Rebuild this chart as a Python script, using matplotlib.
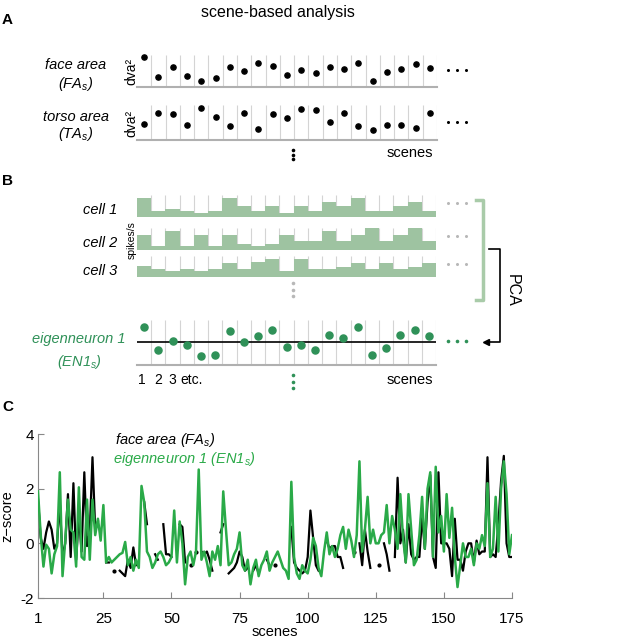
import numpy as np
import matplotlib
matplotlib.use('Agg')
import matplotlib.pyplot as plt
from matplotlib.lines import Line2D

plt.rcParams['font.family'] = ['Liberation Sans', 'DejaVu Sans']
plt.rcParams['mathtext.fontset'] = 'custom'
plt.rcParams['mathtext.rm'] = 'Liberation Sans'
plt.rcParams['mathtext.it'] = 'Liberation Sans:italic'

n = np.nan
W, H = 635.0, 640.0

# panel A: per-scene areas (arbitrary units)
face_area = [30, 10, 20.3, 11.3, 6.3, 8.7, 20.3, 15.7, 23.7, 21.3, 12.3,
             16.7, 14, 20, 17.7, 23.7, 6.3, 15.3, 17.7, 23, 18.7]
torso_area = [15.7, 27.3, 25.7, 15, 31.7, 23.3, 14.3, 27.3, 11, 25.7, 21.7,
              31, 30, 17.7, 26.7, 14.3, 10, 15, 15, 11.7, 26.7]

# panel B: firing rates (fraction of row height)
cell1 = [0.85, 0.28, 0.38, 0.26, 0.2, 0.26, 0.85, 0.5, 0.26, 0.5, 0.2,
         0.5, 0.26, 0.66, 0.5, 0.85, 0.26, 0.26, 0.5, 0.66, 0.26]
cell2 = [0.69, 0.2, 0.88, 0.2, 0.69, 0.2, 0.69, 0.28, 0.2, 0.28, 0.69,
         0.42, 0.42, 0.88, 0.42, 0.69, 1.0, 0.42, 0.69, 1.0, 0.42]
cell3 = [0.52, 0.4, 0.3, 0.4, 0.3, 0.4, 0.68, 0.4, 0.71, 0.85, 0.3,
         0.85, 0.4, 0.4, 0.5, 0.68, 0.4, 0.68, 0.4, 0.5, 0.68]
eigen1 = [15, -8.3, 0.7, -2.7, -14, -13.3, 10.7, 0, 6, 11.7, -5,
          -2.7, -7.7, 6.7, 4.3, 15, -12.7, -6, 6.7, 11.7, 5.7]

# panel C: z-scored time courses, 175 scenes
fa_z = [1.6, 0.2, -0.2, 0.4, 0.8, 0.5, -0.2, 0.0, 1.5, -0.5,
        0.0, 1.8, -0.5, 2.2, -0.6, 1.0, -0.3, 2.6, -0.1, 0.4,
        3.15, 0.5, 0.8, n, n, -0.7, -0.7, n, -1.0, n,
        -1.0, -1.1, -1.2, -0.6, -0.9, -0.15, -0.8, n, n, 1.5,
        0.7, n, n, -0.4, -0.6, n, 0.7, -0.4, -0.4, -0.5,
        n, n, 0.7, 0.6, -0.7, n, -0.8, n, -0.3, n,
        -0.3, -0.4, -0.3, -0.6, -1.0, n, n, 0.4, 0.7, n,
        -1.1, -1.0, -0.9, -0.7, -0.3, -0.5, -1.0, -0.9, n, -1.0,
        -0.8, -1.1, n, n, -0.6, -0.8, n, -0.8, n, n,
        n, n, n, 0.6, -0.7, -0.9, -1.0, -1.1, -1.0, -0.5,
        1.2, 0.2, -0.8, -1.0, n, n, 0.1, -0.2, -0.1, -0.1,
        -0.5, -0.5, -0.9, n, n, n, -0.3, n, 0.0, -0.8,
        0.5, -0.3, -0.9, n, n, -0.8, n, 0.0, -0.4, -1.0,
        n, -0.5, 2.4, 0.0, 0.5, -0.7, 0.7, -0.4, -0.6, -0.5,
        -0.5, 1.0, -0.2, 1.5, 2.5, -0.5, -0.9, 2.6, 0.0, 0.0,
        0.0, -0.2, -1.2, 0.9, -0.6, -0.6, -1.0, -0.3, 0.0, 0.0,
        -0.7, 0.1, -0.4, -0.3, -0.3, 3.15, -0.5, -0.4, -0.5, 0.7,
        2.3, 3.2, 0.0, -0.5, -0.5]
en1_z = [1.9, 0.3, -0.85, -0.05, -0.2, -1.1, -0.4, -0.1, 2.6, -1.2,
         0.1, 1.6, 0.5, 0.4, -0.85, 2.05, -0.5, -0.6, 1.6, -0.6,
         1.6, 0.3, 0.9, 0.1, 1.4, -0.7, -0.5, -0.7, -0.6, -0.5,
         -0.4, -0.35, 0.05, -0.8, -0.5, -1.0, -0.6, -0.9, 2.1, 1.5,
         -0.3, -0.5, -0.9, -0.7, -0.4, -0.3, -0.5, -0.8, -0.7, -0.5,
         1.2, -0.7, 0.8, 0.0, -1.5, -0.5, -0.3, -0.8, -0.3, 2.7,
         -0.6, -0.3, -0.7, -1.2, -0.3, -0.6, -0.1, -0.8, 1.9, 0.5,
         -0.8, -0.7, -0.4, -0.2, 0.4, -0.8, -1.0, -0.6, -1.5, -0.9,
         -0.6, -1.2, -0.8, -0.6, -0.3, -1.0, -0.7, -0.5, -0.3, -0.6,
         -0.9, -1.0, -1.3, 2.25, -0.5, -1.1, -1.3, -0.8, -1.0, -1.1,
         -0.6, 0.2, -0.1, -0.9, -1.2, -0.3, 0.4, -0.4, -0.1, -0.5,
         -0.2, 0.3, 0.6, -0.2, 0.5, 0.1, -0.5, 0.3, 3.0, -0.3,
         0.5, 1.7, 0.0, 0.5, 0.0, 0.0, 0.3, 0.4, 1.4, 0.0,
         1.0, 0.5, -0.2, 1.8, 0.2, -0.7, 1.8, 0.5, -0.8, -0.6,
         0.3, 1.7, -0.2, 2.0, 2.6, -0.5, 2.8, 0.4, 1.0, -0.3,
         1.8, 0.2, 1.3, -0.5, -1.6, -0.8, 0.0, -0.5, -0.5, -0.2,
         -0.8, 0.0, -0.2, 0.3, -0.1, 2.2, -0.5, -0.2, 1.7, -0.3,
         2.0, 3.0, 1.8, -0.4, 0.3]

scene_ticks = [1, 25, 50, 75, 100, 125, 150, 175]
z_ticks = [-2, 0, 2, 4]
z_labels = ['-2', '0', '2', '4']

bar_green = '#9ec3a1'
dot_green = '#2f9158'
line_green = '#2aaa48'
grid_gray = '#d4d4d4'
FS = 10.5


def rect(x0, y0, x1, y1):
    return [x0 / W, 1 - y1 / H, (x1 - x0) / W, (y1 - y0) / H]


def fx(x):
    return x / W


def fy(y):
    return 1 - y / H


def strip_axes(ax, ymax, ymin=0):
    ax.set_xlim(0, 21)
    ax.set_ylim(ymin, ymax)
    for s in ['top', 'left', 'right']:
        ax.spines[s].set_visible(False)
    ax.spines['bottom'].set_color('#b0b0b0')
    ax.spines['bottom'].set_linewidth(1.5)
    ax.set_xticks([])
    ax.set_yticks([])
    ax.patch.set_alpha(0)
    ax.vlines(np.arange(1, 22), ymin, ymax, color=grid_gray, lw=0.8, zorder=0)


def dots(xs, ys, color, ms=2.2):
    fig.add_artist(Line2D([fx(x) for x in xs], [fy(y) for y in ys], ls='none',
                          marker='o', ms=ms, color=color, mec='none',
                          transform=fig.transFigure))


fig = plt.figure(figsize=(6.35, 6.4), dpi=100)
xc = np.arange(21) + 0.5

fig.text(fx(278), fy(12), 'scene-based analysis', fontsize=11.5, ha='center', va='center')
fig.text(fx(2), fy(20), 'A', fontsize=11, weight='bold', va='center')
fig.text(fx(2), fy(181), 'B', fontsize=11, weight='bold', va='center')
fig.text(fx(2), fy(407), 'C', fontsize=11, weight='bold', va='center')

# ---- panel A
axA1 = fig.add_axes(rect(137, 55, 437, 87))
strip_axes(axA1, 32)
axA1.scatter(xc, face_area, s=14, color='black', zorder=3, clip_on=False)
axA2 = fig.add_axes(rect(137, 105, 437, 140))
strip_axes(axA2, 35)
axA2.scatter(xc, torso_area, s=14, color='black', zorder=3, clip_on=False)

fig.text(fx(76), fy(65), 'face area', fontsize=FS, style='italic', ha='center', va='center')
fig.text(fx(76), fy(84), '(FA$_s$)', fontsize=FS, style='italic', ha='center', va='center')
fig.text(fx(76), fy(117), 'torso area', fontsize=FS, style='italic', ha='center', va='center')
fig.text(fx(76), fy(134), '(TA$_s$)', fontsize=FS, style='italic', ha='center', va='center')
fig.text(fx(131), fy(71), 'dva²', fontsize=10, rotation=90, ha='center', va='center')
fig.text(fx(131), fy(123), 'dva²', fontsize=10, rotation=90, ha='center', va='center')
dots([448, 457, 466], [70, 70, 70], 'black')
dots([448, 457, 466], [122, 122, 122], 'black')
dots([293, 293, 293], [150, 154.5, 159], 'black', 2.6)
fig.text(fx(410), fy(153), 'scenes', fontsize=FS, ha='center', va='center')

# ---- panel B
rows = [(cell1, 195, 217, 'cell 1', 210, 203),
        (cell2, 228, 250, 'cell 2', 243, 236),
        (cell3, 256, 277, 'cell 3', 271, 264)]
for vals, y0, y1, name, ty, dy in rows:
    ax = fig.add_axes(rect(137, y0, 436, y1))
    strip_axes(ax, 1)
    ax.spines['bottom'].set_visible(False)
    ax.bar(xc, vals, width=1, color=bar_green, edgecolor='none', zorder=2)
    fig.text(fx(117), fy(ty), name, fontsize=FS, style='italic', ha='right', va='center')
    dots([448, 457, 466], [dy, dy, dy], '#b8b8b8')
fig.text(fx(132), fy(240), 'spikes/s', fontsize=7.5, rotation=90, ha='center', va='center')
dots([293, 293, 293], [283, 289.5, 296], '#b8b8b8', 2.6)

# bracket and PCA arrow
fig.add_artist(Line2D([fx(476), fx(483), fx(483), fx(476)], [fy(200), fy(200), fy(300), fy(300)],
                      color='#a9cba9', lw=2.5, transform=fig.transFigure))
fig.add_artist(Line2D([fx(489), fx(500), fx(500), fx(490)], [fy(249), fy(249), fy(342), fy(342)],
                      color='black', lw=1.2, transform=fig.transFigure))
fig.add_artist(Line2D([fx(486)], [fy(342)], marker='<', ms=5, color='black',
                      transform=fig.transFigure))
fig.text(fx(512), fy(290), 'PCA', fontsize=11.5, rotation=270, ha='center', va='center')

# eigenneuron row
axE = fig.add_axes(rect(137, 320, 436, 365))
strip_axes(axE, 22, -23)
axE.axhline(0, color='black', lw=1.2, zorder=2)
axE.scatter(xc, eigen1, s=26, color=dot_green, zorder=3, clip_on=False)
fig.text(fx(79), fy(339), 'eigenneuron 1', fontsize=FS, style='italic', color=dot_green,
         ha='center', va='center')
fig.text(fx(79), fy(362), '(EN1$_s$)', fontsize=FS, style='italic', color=dot_green,
         ha='center', va='center')
for lab, x in [('1', 142), ('2', 158), ('3', 172), ('etc.', 192)]:
    fig.text(fx(x), fy(380), lab, fontsize=10, ha='center', va='center')
fig.text(fx(410), fy(380), 'scenes', fontsize=FS, ha='center', va='center')
dots([293, 293, 293], [375, 381.5, 388], dot_green, 2.6)
dots([448, 457, 466], [341, 341, 341], dot_green, 2.6)

# ---- panel C
axC = fig.add_axes(rect(38, 434, 512, 598))
scenes = np.arange(1, 176)
fa_arr = np.array(fa_z, dtype=float)
axC.plot(scenes, fa_arr, color='black', lw=1.6, zorder=2)
lonely = [i for i in range(175) if not np.isnan(fa_arr[i])
          and (i == 0 or np.isnan(fa_arr[i - 1])) and (i == 174 or np.isnan(fa_arr[i + 1]))]
axC.plot(scenes[lonely], fa_arr[lonely], ls='none', marker='o', ms=2, color='black')
axC.plot(scenes, en1_z, color=line_green, lw=1.8, zorder=3)
axC.set_xlim(1, 175)
axC.set_ylim(-2, 4)
axC.set_xticks(scene_ticks)
axC.set_yticks(z_ticks, z_labels)
axC.tick_params(direction='in', labelsize=11, length=4, color='#888888')
axC.tick_params(axis='x', pad=10)
axC.tick_params(axis='y', pad=3)
for s in ['top', 'right']:
    axC.spines[s].set_visible(False)
for s in ['left', 'bottom']:
    axC.spines[s].set_color('#888888')
axC.set_xlabel('scenes', fontsize=FS)
axC.xaxis.set_label_coords(0.5, -0.165)
axC.set_ylabel('z−score', fontsize=FS)
axC.yaxis.set_label_coords(-0.05, 0.5)
fig.text(fx(115), fy(440), 'face area (FA$_s$)', fontsize=FS, style='italic', va='center')
fig.text(fx(113), fy(459), 'eigenneuron 1 (EN1$_s$)', fontsize=FS, style='italic',
         color=line_green, va='center')

fig.savefig('out.png', dpi=100)
